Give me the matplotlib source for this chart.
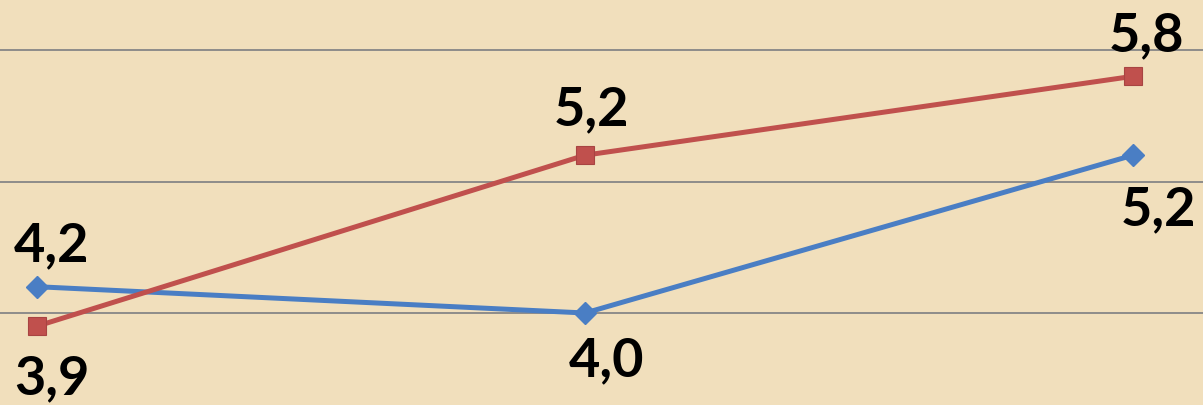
import matplotlib
matplotlib.use("Agg")
import matplotlib.pyplot as plt

categories = ["A", "B", "C"]
series_blue = [4.2, 4.0, 5.2]
series_red = [3.9, 5.2, 5.8]
blue_labels = ["4,2", "4,0", "5,2"]
red_labels = ["3,9", "5,2", "5,8"]

# label offsets in pixels (style)
blue_offsets = [(15, 41), (22, -48), (25, -55)]
red_offsets = [(15, -53), (6, 45), (13, 41)]

W, H, DPI = 1203, 405, 100
BG = "#F1DFBC"
fig = plt.figure(figsize=(W / DPI, H / DPI), dpi=DPI)
fig.patch.set_facecolor(BG)
ax = fig.add_axes([0, 0, 1, 1])
ax.set_facecolor(BG)

x = list(range(len(categories)))
ax.set_xlim(-37 / 548, 2 + 70 / 548)
ax.set_ylim(4 - 92 / 131.5, 6 + 50 / 131.5)

for yv in [4, 5, 6]:
    ax.axhline(yv, color="#868686", lw=1.3, zorder=1)

ax.plot(x, series_blue, color="#4A7EC4", lw=3.6, marker="D", markersize=11,
        markerfacecolor="#4A7EC4", markeredgecolor="#4A7EC4", zorder=3)
ax.plot(x, series_red, color="#C0504D", lw=3.6, marker="s", markersize=13,
        markerfacecolor="#C0504D", markeredgecolor="#A84442", markeredgewidth=0.8, zorder=3)

fp = dict(fontsize=39, fontweight="bold", family=["Lato", "DejaVu Sans"], color="black")
for xi, yi, lab, (dx, dy) in zip(x, series_blue, blue_labels, blue_offsets):
    ax.annotate(lab, (xi, yi), xytext=(dx * 72 / DPI, dy * 72 / DPI), textcoords="offset points",
                ha="center", va="center", **fp)
for xi, yi, lab, (dx, dy) in zip(x, series_red, red_labels, red_offsets):
    ax.annotate(lab, (xi, yi), xytext=(dx * 72 / DPI, dy * 72 / DPI), textcoords="offset points",
                ha="center", va="center", **fp)

ax.axis("off")
fig.savefig("out.png", dpi=DPI, facecolor=fig.get_facecolor())
